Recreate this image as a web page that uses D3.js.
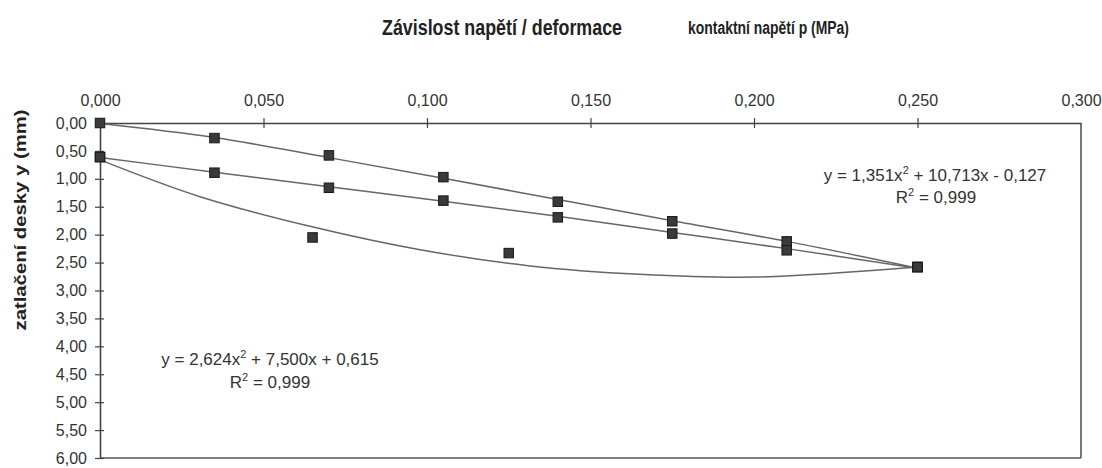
<!DOCTYPE html>
<html><head><meta charset="utf-8">
<script src="https://cdn.jsdelivr.net/npm/d3@7"></script>
<style>
html,body{margin:0;padding:0;background:#fff;}
svg{display:block;font-family:"Liberation Sans",Arial,Helvetica,sans-serif;}
</style></head>
<body>
<svg id="c" width="1102" height="468"></svg>
<script>
// ---- data ----
const xTicks = [0, 0.05, 0.10, 0.15, 0.20, 0.25, 0.30];
const yTicks = [0, 0.5, 1, 1.5, 2, 2.5, 3, 3.5, 4, 4.5, 5, 5.5, 6];

const topX = [0, 0.035, 0.07, 0.105, 0.14, 0.175, 0.21, 0.25];
const topY = [0, 0.27, 0.58, 0.97, 1.41, 1.76, 2.12, 2.58];
const midX = [0, 0.035, 0.07, 0.105, 0.14, 0.175, 0.21, 0.25];
const midY = [0.61, 0.89, 1.16, 1.39, 1.69, 1.98, 2.28, 2.58];
const lowX = [0, 0.065, 0.125, 0.25];
const lowY = [0.61, 2.05, 2.33, 2.58];

// trend curves
const trendTopX = [0, 0.035, 0.07, 0.105, 0.14, 0.175, 0.21, 0.25];
const trendTopY = [0.01, 0.26, 0.62, 0.99, 1.37, 1.75, 2.12, 2.6];
const trendMidX = [0, 0.035, 0.07, 0.105, 0.14, 0.175, 0.21, 0.25];
const trendMidY = [0.62, 0.88, 1.14, 1.40, 1.67, 1.96, 2.25, 2.6];
const trendLowX = [0, 0.0306, 0.0642, 0.0979, 0.1315, 0.165, 0.2, 0.25];
const trendLowY = [0.66, 1.32, 1.85, 2.27, 2.56, 2.71, 2.76, 2.58];

const title = "Závislost napětí / deformace";
const xTitle = "kontaktní napětí p (MPa)";
const yTitle = "zatlačení desky y (mm)";
const eqTop = ["y = 1,351x", "2", " + 10,713x - 0,127"];
const r2Top = ["R", "2", " = 0,999"];
const eqLow = ["y = 2,624x", "2", " + 7,500x + 0,615"];
const r2Low = ["R", "2", " = 0,999"];

// ---- drawing ----
const svg = d3.select("#c");
const x = d3.scaleLinear().domain([0, 0.3]).range([100, 1081]);
const y = d3.scaleLinear().domain([0, 6]).range([123, 458]);
const loc = d3.formatLocale({decimal: ",", thousands: " ", grouping: [3], currency: ["", ""]});
const fx = loc.format(".3f"), fy = loc.format(".2f");

// frame (right and bottom)
svg.append("line").attr("x1", x(0.3)).attr("x2", x(0.3)).attr("y1", y(0)).attr("y2", y(6))
  .attr("stroke", "#555").attr("stroke-width", 1.6);
svg.append("line").attr("x1", x(0)).attr("x2", x(0.3)).attr("y1", y(6)).attr("y2", y(6))
  .attr("stroke", "#555").attr("stroke-width", 1.6);

// top x axis
const gx = svg.append("g").attr("transform", `translate(0,${y(0)})`)
  .call(d3.axisTop(x).tickValues(xTicks).tickFormat(fx).tickSizeOuter(0).tickSizeInner(5));
gx.select(".domain").attr("stroke", "#444").attr("stroke-width", 1.6);
gx.selectAll(".tick line").attr("y1", -5).attr("y2", 5).attr("stroke", "#444").attr("stroke-width", 1.2);
gx.selectAll(".tick").filter(d => d === 0.3).select("line").remove();
gx.selectAll(".tick text").attr("y", -17.5).attr("dy", 0)
  .attr("font-size", 16).attr("fill", "#333").attr("font-family", "Liberation Sans, Arial, sans-serif");

// left y axis
const gy = svg.append("g").attr("transform", `translate(${x(0)},0)`)
  .call(d3.axisLeft(y).tickValues(yTicks).tickFormat(fy).tickSizeOuter(0).tickSizeInner(5));
gy.select(".domain").attr("stroke", "#444").attr("stroke-width", 1.6);
gy.selectAll(".tick line").attr("x1", -5).attr("x2", 4).attr("stroke", "#444").attr("stroke-width", 1.2);
gy.selectAll(".tick text").attr("x", -13).attr("dy", "0.32em")
  .attr("font-size", 16).attr("fill", "#333").attr("font-family", "Liberation Sans, Arial, sans-serif");

// trend lines
const lineM = d3.line().x(d => x(d[0])).y(d => y(d[1])).curve(d3.curveMonotoneX);
const lineC = d3.line().x(d => x(d[0])).y(d => y(d[1])).curve(d3.curveCatmullRom.alpha(0.5));
[[trendTopX, trendTopY, lineM], [trendMidX, trendMidY, lineM], [trendLowX, trendLowY, lineC]].forEach(([xs, ys, ln]) => {
  svg.append("path").datum(xs.map((v, i) => [v, ys[i]])).attr("d", ln)
    .attr("fill", "none").attr("stroke", "#666").attr("stroke-width", 1.5);
});

// markers
const pts = [];
[[topX, topY], [midX, midY], [lowX, lowY]].forEach(([xs, ys]) => xs.forEach((v, i) => pts.push([v, ys[i]])));
svg.append("g").selectAll("rect").data(pts).join("rect")
  .attr("x", d => x(d[0]) - 4.75).attr("y", d => y(d[1]) - 4.75)
  .attr("width", 9.5).attr("height", 9.5)
  .attr("fill", "#3a3a3a").attr("stroke", "#1a1a1a").attr("stroke-width", 1);

// titles
svg.append("text").attr("x", 382).attr("y", 35).text(title)
  .attr("font-size", 22).attr("font-weight", "bold").attr("fill", "#222")
  .attr("font-family", "Liberation Sans Narrow, Arial Narrow, Liberation Sans, Arial, sans-serif")
  .attr("textLength", 240).attr("lengthAdjust", "spacingAndGlyphs");
svg.append("text").attr("x", 688).attr("y", 34).text(xTitle)
  .attr("font-size", 17.5).attr("font-weight", "bold").attr("fill", "#222")
  .attr("font-family", "Liberation Sans Narrow, Arial Narrow, Liberation Sans, Arial, sans-serif")
  .attr("textLength", 161).attr("lengthAdjust", "spacingAndGlyphs");
svg.append("text").attr("transform", "translate(26,220) rotate(-90)").attr("text-anchor", "middle")
  .text(yTitle).attr("font-size", 17).attr("font-weight", "bold").attr("fill", "#222")
  .attr("textLength", 221).attr("lengthAdjust", "spacingAndGlyphs");

// equation labels
function eq(parts, cx, by) {
  const t = svg.append("text").attr("x", cx).attr("y", by).attr("text-anchor", "middle")
    .attr("font-size", 17).attr("fill", "#333");
  t.append("tspan").text(parts[0]);
  t.append("tspan").text(parts[1]).attr("font-size", 11).attr("dy", -7);
  t.append("tspan").text(parts[2]).attr("dy", 7);
}
eq(eqTop, 935, 181);
eq(r2Top, 936, 203);
eq(eqLow, 270, 365);
eq(r2Low, 270, 388);
</script>
</body></html>
